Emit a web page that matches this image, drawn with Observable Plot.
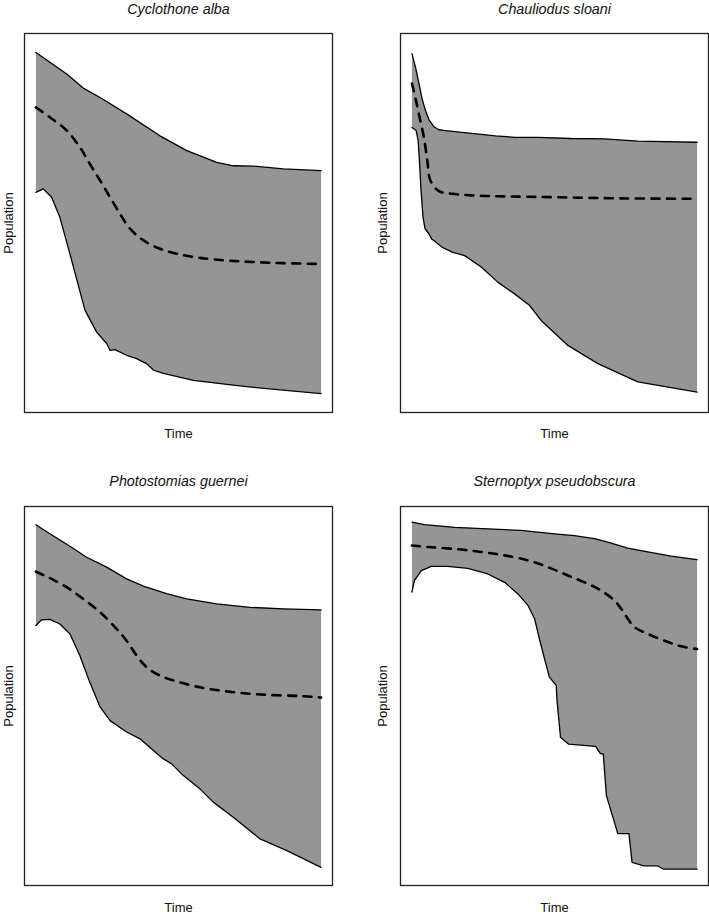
<!DOCTYPE html>
<html>
<head>
<meta charset="utf-8">
<script src="https://cdn.jsdelivr.net/npm/d3@7"></script>
<script src="https://cdn.jsdelivr.net/npm/@observablehq/plot@0.6"></script>
<style>
  html, body { margin: 0; padding: 0; background: #fff; }
  #wrap { position: relative; width: 709px; height: 916px; overflow: hidden; }
  .cell { position: absolute; }
</style>
</head>
<body>
<div id="wrap"></div>
<script>
// ---- Data (time 0–100, population as % of panel height) ----
const titles = ["Cyclothone alba", "Chauliodus sloani", "Photostomias guernei", "Sternoptyx pseudobscura"];

// Cyclothone alba
const caUpperT = [0, 4.9, 10.8, 16.6, 22.5, 31.8, 43.5, 52.9, 63.4, 69.2, 76.3, 86.8, 100];
const caUpperV = [95.0, 92.4, 89.3, 85.6, 83.1, 78.8, 73.0, 69.1, 66.0, 65.1, 65.0, 64.3, 63.8];
const caLowerT = [0, 2.6, 5.5, 8.4, 11.9, 17.2, 21.3, 24.8, 26.0, 27.7, 31.8, 35.3, 38.8, 41.2, 44.7, 55.2, 69.2, 80.9, 100];
const caLowerV = [58.1, 59.0, 56.8, 51.5, 41.9, 27.0, 21.2, 18.2, 16.4, 16.6, 15.1, 14.2, 12.9, 11.2, 10.3, 8.5, 7.2, 6.3, 5.0];
const caMedT = [0, 4.9, 10.8, 15.4, 18.9, 22.5, 26.0, 29.5, 33.0, 37.7, 43.5, 49.4, 57.5, 66.9, 76.3, 86.8, 100];
const caMedV = [80.5, 77.9, 74.4, 70.0, 65.6, 61.2, 56.8, 52.4, 48.5, 45.4, 43.2, 41.9, 40.8, 40.1, 39.7, 39.4, 39.2];

// Chauliodus sloani
const csUpperT = [0, 1.3, 2.5, 3.6, 4.8, 6.0, 7.7, 9.5, 11.8, 17.6, 29.3, 36.3, 44.2, 55.8, 67.5, 79.2, 100];
const csUpperV = [94.7, 91.0, 86.7, 82.7, 79.6, 77.2, 75.4, 74.6, 74.4, 73.9, 73.0, 72.6, 72.6, 72.3, 72.2, 71.6, 71.3];
const csLowerT = [0, 1.5, 2.2, 2.7, 3.2, 3.9, 4.6, 6.0, 6.9, 7.7, 10.6, 14.1, 18.5, 24.3, 30.1, 36.0, 41.2, 45.3, 54.7, 65.2, 79.2, 100];
const csLowerV = [75.2, 74.4, 71.7, 65.6, 58.6, 51.5, 48.5, 47.1, 45.8, 45.4, 43.6, 42.3, 41.4, 38.4, 34.4, 31.3, 28.3, 24.3, 17.7, 12.9, 8.1, 5.4];
const csMedT = [0, 1.3, 2.7, 4.2, 5.4, 6.5, 9.5, 14.1, 23.5, 34.0, 50.0, 73.4, 100];
const csMedV = [86.8, 82.7, 77.9, 72.6, 66.5, 61.2, 58.4, 57.7, 57.2, 57.0, 56.8, 56.5, 56.4];

// Photostomias guernei
const pgUpperT = [0, 4.9, 11.9, 17.8, 24.8, 31.8, 37.7, 45.8, 52.9, 63.4, 75.1, 86.8, 100];
const pgUpperV = [95.2, 92.8, 89.5, 86.6, 84.0, 80.9, 79.0, 77.0, 75.6, 74.3, 73.4, 73.0, 72.7];
const pgLowerT = [0, 2.0, 4.9, 8.4, 11.9, 15.4, 18.9, 22.5, 26.0, 31.8, 36.5, 41.2, 44.7, 47.6, 51.7, 57.5, 62.2, 69.2, 78.6, 88.0, 100];
const pgLowerV = [68.6, 70.1, 70.2, 69.0, 66.4, 60.7, 53.6, 47.1, 43.5, 40.5, 38.7, 35.6, 33.4, 32.1, 29.0, 25.5, 22.0, 18.0, 12.3, 9.2, 4.8];
const pgMedT = [0, 4.9, 10.8, 16.6, 22.5, 28.3, 31.8, 35.3, 38.8, 43.5, 48.2, 57.5, 69.2, 80.9, 92.6, 100];
const pgMedV = [82.8, 81.1, 78.7, 75.6, 72.1, 67.7, 64.6, 60.7, 57.6, 55.4, 54.1, 52.3, 51.0, 50.3, 50.0, 49.6];

// Sternoptyx pseudobscura
const spUpperT = [0, 4.4, 15.0, 26.6, 38.3, 50.0, 57.0, 64.0, 68.7, 75.7, 82.7, 90.9, 100];
const spUpperV = [95.9, 95.2, 94.5, 94.1, 93.7, 92.8, 92.3, 91.5, 90.6, 89.0, 88.0, 86.9, 86.0];
const spLowerT = [0, 0.9, 3.3, 6.8, 12.6, 19.6, 26.6, 32.5, 37.1, 40.7, 43.0, 44.7, 46.5, 48.2, 50.6, 50.9, 52.1, 55.0, 64.4, 66.1, 67.1, 68.2, 72.2, 76.1, 77.2, 81.3, 86.0, 88.3, 100];
const spLowerV = [77.4, 80.5, 83.1, 84.2, 84.2, 83.7, 82.2, 80.0, 77.0, 73.9, 70.4, 65.1, 59.8, 55.0, 52.8, 48.7, 39.1, 37.3, 36.7, 34.8, 34.7, 23.7, 13.7, 13.7, 6.1, 5.2, 5.2, 4.3, 4.3];
const spMedT = [0, 5.6, 15.0, 24.3, 32.5, 40.7, 47.7, 54.7, 61.7, 66.4, 71.0, 73.4, 75.7, 78.0, 82.7, 88.6, 94.4, 100];
const spMedV = [89.7, 89.3, 88.8, 88.0, 87.1, 85.8, 84.0, 81.8, 79.6, 77.8, 75.2, 73.0, 70.4, 68.2, 66.4, 64.6, 63.1, 62.4];

// ---- Build ----
const zip = (T, V) => T.map((t, i) => ({t, v: V[i]}));
const series = [
  {upper: zip(caUpperT, caUpperV), lower: zip(caLowerT, caLowerV), med: zip(caMedT, caMedV)},
  {upper: zip(csUpperT, csUpperV), lower: zip(csLowerT, csLowerV), med: zip(csMedT, csMedV)},
  {upper: zip(pgUpperT, pgUpperV), lower: zip(pgLowerT, pgLowerV), med: zip(pgMedT, pgMedV)},
  {upper: zip(spUpperT, spUpperV), lower: zip(spLowerT, spLowerV), med: zip(spMedT, spMedV)}
];

const cells = [
  {left: 0,   top: 0,   width: 354, height: 458, ml: 24, mr: 22, mt: 33, mb: 46, titleDy: -24, popDx: -16, timeDy: 21},
  {left: 354, top: 0,   width: 355, height: 458, ml: 46, mr: 1,  mt: 33, mb: 46, titleDy: -24, popDx: -18, timeDy: 21},
  {left: 0,   top: 458, width: 354, height: 458, ml: 24, mr: 22, mt: 48, mb: 31, titleDy: -25, popDx: -16, timeDy: 22},
  {left: 354, top: 458, width: 355, height: 458, ml: 46, mr: 1,  mt: 48, mb: 31, titleDy: -25, popDx: -18, timeDy: 22}
];

const wrap = document.getElementById("wrap");
const font = "'Liberation Sans', Arial, Helvetica, sans-serif";

cells.forEach((c, i) => {
  const s = series[i];
  const polygon = s.upper.concat(s.lower.slice().reverse());
  const chart = Plot.plot({
    width: c.width,
    height: c.height,
    marginLeft: c.ml,
    marginRight: c.mr,
    marginTop: c.mt,
    marginBottom: c.mb,
    style: {fontFamily: font, background: "#fff", overflow: "visible"},
    x: {domain: [-4, 104], axis: null},
    y: {domain: [0, 100], axis: null},
    marks: [
      Plot.line(polygon, {x: "t", y: "v", fill: "#959595", stroke: "none"}),
      Plot.line(s.upper, {x: "t", y: "v", stroke: "#000", strokeWidth: 1.3}),
      Plot.line(s.lower, {x: "t", y: "v", stroke: "#000", strokeWidth: 1.3}),
      Plot.line(s.med, {x: "t", y: "v", curve: "catmull-rom", stroke: "#000", strokeWidth: 2.6, strokeDasharray: "8,7.5"}),
      Plot.frame({stroke: "#222", strokeWidth: 1.3}),
      Plot.text([titles[i]], {frameAnchor: "top", dy: c.titleDy, lineAnchor: "middle", textAnchor: "middle",
        fontStyle: "italic", fontSize: 14.3, fill: "#111"}),
      Plot.text(["Population"], {frameAnchor: "left", dx: c.popDx, rotate: -90, lineAnchor: "middle", textAnchor: "middle",
        fontSize: 13, fill: "#111"}),
      Plot.text(["Time"], {frameAnchor: "bottom", dy: c.timeDy, lineAnchor: "middle", textAnchor: "middle",
        fontSize: 13, fill: "#111"})
    ]
  });
  const div = document.createElement("div");
  div.className = "cell";
  div.style.left = c.left + "px";
  div.style.top = c.top + "px";
  div.appendChild(chart);
  wrap.appendChild(div);
});
</script>
</body>
</html>
